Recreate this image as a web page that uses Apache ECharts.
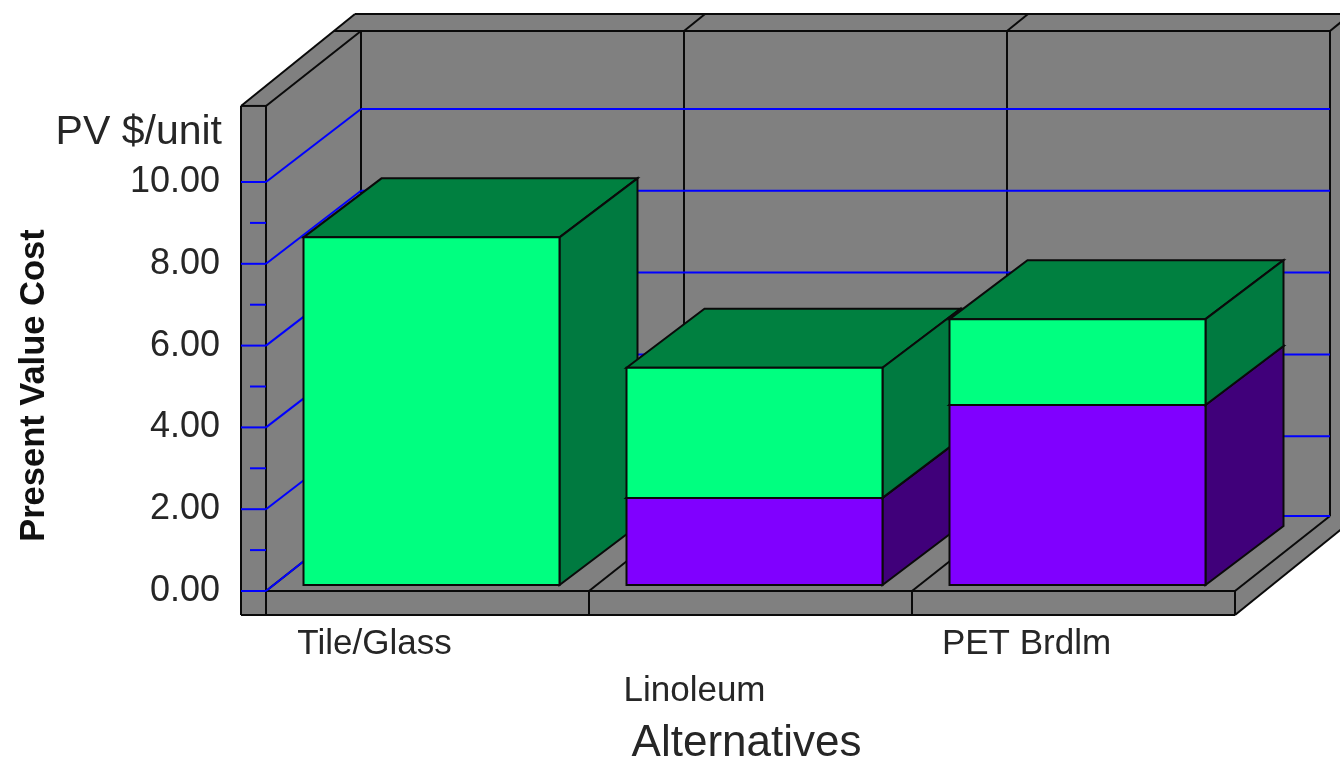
<!DOCTYPE html>
<html>
<head>
<meta charset="utf-8">
<style>html,body{margin:0;padding:0;background:#fff}#chart{width:1340px;height:757px}</style>
<script src="https://cdn.jsdelivr.net/npm/echarts@6/dist/echarts.min.js"></script>
</head>
<body>
<div id="chart"></div>
<script>
// Present value cost of three flooring alternatives, $ per unit
const categories = ['Tile/Glass', 'Linoleum', 'PET Brdlm'];
const lowerValues = [0, 2.13, 4.4];
const upperValues = [8.5, 3.18, 2.1];
const majorTicks = [0, 2, 4, 6, 8, 10];
const minorTicks = [1, 3, 5, 7, 9];
const wallTop = 11.86;
const axisMax = 12;

// Oblique projection of the chart box, in pixels
const DEPTH = [95, -75];
const GRID_RISE = -73;
const OUTER = [114, -92];
const STRIP = 25;
const FLOOR_LIP = 24;
const BAR_WIDTH = 256;
const BAR_DEPTH = [78, -59];
const BAR_SHIFT = [4, -6];

const GREY = '#808080', BLACK = '#0a0a0a', BLUE = '#0000ff';
const FACES = {
  upper: { front: '#00ff80', side: '#007a40', top: '#008040' },
  lower: { front: '#8000ff', side: '#40007a', top: '#40007a' }
};

const poly = (points, fill, z2) => ({
  type: 'polygon', z2,
  shape: { points },
  style: { fill, stroke: BLACK, lineWidth: 2, lineJoin: 'miter' }
});
const seg = (a, b, stroke, z2, lineWidth = 2) => ({
  type: 'line', z2,
  shape: { x1: a[0], y1: a[1], x2: b[0], y2: b[1] },
  style: { stroke, lineWidth, fill: null }
});
const add = (p, d) => [p[0] + d[0], p[1] + d[1]];

// Walls and floor of the box, positioned from the axis scales
function renderWalls(params, api) {
  const band = api.size([1, 0])[0];
  const y0 = api.coord([0, 0])[1];
  const yTop = api.coord([0, wallTop])[1];
  const edges = categories.map((c, i) => api.coord([i, 0])[0] - band / 2);
  edges.push(edges[edges.length - 1] + band);
  const L = edges[0], R = edges[edges.length - 1];
  const lipY = y0 + FLOOR_LIP;
  const backTop = yTop + DEPTH[1];
  const backBottom = y0 + DEPTH[1];
  const outerTop = yTop + OUTER[1];
  const ch = [];

  ch.push({
    type: 'polygon', z2: 0,
    shape: { points: [[L - STRIP, yTop], add([L - STRIP, yTop], OUTER), add([R + 200, yTop], OUTER), add([R, lipY], OUTER), [R, lipY], [L - STRIP, lipY]] },
    style: { fill: GREY, stroke: null }
  });

  // outer silhouette
  ch.push(seg([L - STRIP, yTop], add([L - STRIP, yTop], OUTER), BLACK, 1));
  ch.push(seg(add([L - STRIP, yTop], OUTER), [R + 200, outerTop], BLACK, 1));
  ch.push(seg([L - STRIP, yTop], [L, yTop], BLACK, 1));
  ch.push(seg([L - STRIP, yTop], [L - STRIP, lipY], BLACK, 1));
  ch.push(seg([L - STRIP, lipY], [R, lipY], BLACK, 1));
  ch.push(seg([R, lipY], add([R, lipY], OUTER), BLACK, 1));

  // inner corner of the left wall and the top strip
  ch.push(seg([L, yTop], [L, lipY], BLACK, 1));
  ch.push(seg([L, yTop], [L + DEPTH[0], backTop], BLACK, 1));
  const stripLeft = (L - STRIP) + (yTop - backTop) * (OUTER[0] / -OUTER[1]);
  ch.push(seg([stripLeft, backTop], [R + DEPTH[0], backTop], BLACK, 1));
  ch.push(seg([L - STRIP, y0], [R, y0], BLACK, 1));
  ch.push(seg([R, y0], [R, lipY], BLACK, 1));

  // category dividers across floor, back wall and top strip
  edges.forEach((x, i) => {
    const bx = x + DEPTH[0];
    ch.push(seg([x, y0], [bx, backBottom], BLACK, 1));
    ch.push(seg([bx, backBottom], [bx, backTop], BLACK, 1));
    if (i > 0) {
      ch.push(seg([x, y0], [x, lipY], BLACK, 1));
      ch.push(seg([bx, backTop], [bx + (backTop - outerTop) * (OUTER[0] / -OUTER[1]), outerTop], BLACK, 1));
    }
  });
  return { type: 'group', children: ch };
}

// A major gridline runs along the left strip, the left wall and the back wall
function renderGridline(params, api) {
  const y = api.coord([0, api.value(0)])[1];
  const y0 = api.coord([0, 0])[1];
  const L = api.coord([0, 0])[0] - api.size([1, 0])[0] / 2;
  const R = L + api.size([1, 0])[0] * categories.length;
  // the back end of a gridline stops at the rear edge of the floor
  const backY = Math.min(y + GRID_RISE, y0 + DEPTH[1]);
  const back = [L + DEPTH[0], backY];
  return {
    type: 'group',
    children: [
      seg([L - STRIP, y], [L, y], BLUE, 5),
      seg([L, y], back, BLUE, 5),
      seg(back, [R + DEPTH[0], backY], BLUE, 5)
    ]
  };
}

function renderMinorTick(params, api) {
  const y = api.coord([0, api.value(0)])[1];
  const L = api.coord([0, 0])[0] - api.size([1, 0])[0] / 2;
  return seg([L - 16, y], [L, y], BLUE, 5);
}

// One stacked segment of a box; later categories sit in front of earlier ones
function barRenderer(faces, layer) {
  return function (params, api) {
    const i = api.value(0), value = api.value(1), base = api.value(2);
    if (!value) return null;
    const cx = api.coord([i, 0])[0] + BAR_SHIFT[0];
    const yLow = api.coord([i, base])[1] + BAR_SHIFT[1];
    const yHigh = api.coord([i, base + value])[1] + BAR_SHIFT[1];
    const l = cx - BAR_WIDTH / 2, r = cx + BAR_WIDTH / 2;
    const z = 10 + i * 10 + layer;
    return {
      type: 'group',
      children: [
        poly([[l, yHigh], add([l, yHigh], BAR_DEPTH), add([r, yHigh], BAR_DEPTH), [r, yHigh]], faces.top, z),
        poly([[r, yHigh], add([r, yHigh], BAR_DEPTH), add([r, yLow], BAR_DEPTH), [r, yLow]], faces.side, z),
        poly([[l, yHigh], [r, yHigh], [r, yLow], [l, yLow]], faces.front, z + 1)
      ]
    };
  };
}

const labelPadding = [[0, 106, 0, 0], [47, 112, 0, 0], [0, 94, 0, 0]];
const TEXT = '#262626';
const FONT = '"Liberation Sans", Arial, sans-serif';

const chart = echarts.init(document.getElementById('chart'), null, { renderer: 'canvas' });
chart.setOption({
  animation: false,
  backgroundColor: '#ffffff',
  grid: { left: 266, right: 105, top: 100.2, bottom: 166, containLabel: false, outerBoundsMode: 'none' },
  xAxis: {
    type: 'category',
    data: categories.map((c, i) => ({ value: c, textStyle: { padding: labelPadding[i] } })),
    axisLine: { show: false },
    axisTick: { show: false },
    splitLine: { show: false },
    axisLabel: { color: TEXT, fontFamily: FONT, fontSize: 35, margin: 36, interval: 0, hideOverlap: false },
    name: 'Alternatives',
    nameLocation: 'middle',
    nameGap: 131,
    nameTextStyle: { color: TEXT, fontFamily: FONT, fontSize: 44, padding: [0, 8, 0, 0] }
  },
  yAxis: {
    type: 'value',
    min: 0,
    max: axisMax,
    interval: 2,
    axisLine: { show: false },
    axisTick: { show: false },
    splitLine: { show: false },
    axisLabel: {
      color: TEXT, fontFamily: FONT, fontSize: 36, margin: 46, padding: [8, 0, 0, 0],
      customValues: majorTicks,
      formatter: v => v.toFixed(2)
    },
    name: 'Present Value Cost',
    nameLocation: 'middle',
    nameGap: 214,
    nameRotate: 90,
    nameTextStyle: { color: '#111', fontFamily: FONT, fontSize: 34.5, fontWeight: 'bold', padding: [0, 80, 0, 0] }
  },
  graphic: [{
    type: 'text', right: 1340 - 222, top: 112,
    style: { text: 'PV $/unit', fill: TEXT, font: '41px ' + FONT, textAlign: 'right' }
  }],
  series: [
    { type: 'custom', name: 'Walls', silent: true, clip: false, z: 2, data: [[0]], renderItem: renderWalls, encode: { y: 0 } },
    { type: 'custom', name: 'Gridlines', silent: true, clip: false, z: 2, data: majorTicks.map(v => [v]), renderItem: renderGridline, encode: { y: 0 } },
    { type: 'custom', name: 'Minor ticks', silent: true, clip: false, z: 2, data: minorTicks.map(v => [v]), renderItem: renderMinorTick, encode: { y: 0 } },
    {
      type: 'custom', name: 'Lower', silent: true, clip: false, z: 2,
      data: lowerValues.map((v, i) => [i, v, 0]),
      renderItem: barRenderer(FACES.lower, 0), encode: { x: 0, y: 1 }
    },
    {
      type: 'custom', name: 'Upper', silent: true, clip: false, z: 2,
      data: upperValues.map((v, i) => [i, v, lowerValues[i]]),
      renderItem: barRenderer(FACES.upper, 2), encode: { x: 0, y: 1 }
    }
  ]
});
</script>
</body>
</html>
